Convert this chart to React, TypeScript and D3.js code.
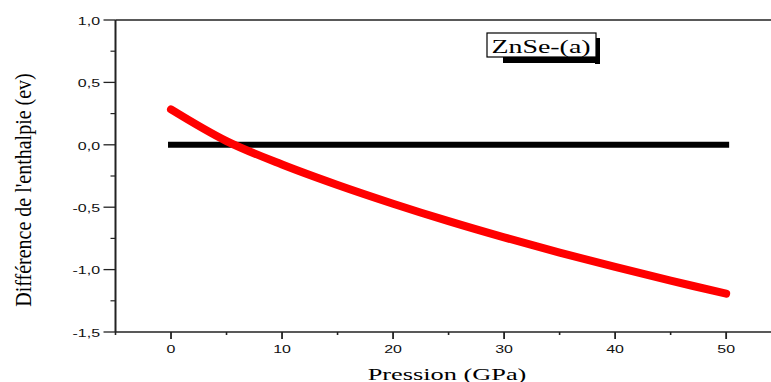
import React from "react";
import * as d3 from "d3";

const pressure = [0, 5, 10, 15, 20, 25, 30, 35, 40, 45, 50];
const redValues = [0.284, 0.03, -0.158, -0.322, -0.472, -0.612, -0.742, -0.864, -0.979, -1.089, -1.192];
const blackValues = [0, 0, 0, 0, 0, 0, 0, 0, 0, 0, 0];
const xTicks = [0, 10, 20, 30, 40, 50];
const xMinor = [-5, 5, 15, 25, 35, 45];
const yTicks = [1.0, 0.5, 0.0, -0.5, -1.0, -1.5];
const yMinor = [0.75, 0.25, -0.25, -0.75, -1.25];
const legendLabel = "ZnSe-(a)";
const xTitle = "Pression (GPa)";
const yTitle = "Différence de l'enthalpie (ev)";

const SX = 1.45;

export default function App() {
  const W = 771, H = 382;
  const left = 115.5, right = 771, top = 20, bottom = 332;
  const x = d3.scaleLinear().domain([-5, 54.04]).range([left, right]);
  const y = d3.scaleLinear().domain([-1.5, 1.0]).range([bottom, top]);
  const fmt = (v: number) => v.toFixed(1).replace(".", ",");
  const line = d3.line<number>().x((_, i) => x(pressure[i])).y((d) => y(d)).curve(d3.curveCatmullRom);
  const sans = { fontFamily: "Liberation Sans, Arial, Helvetica, sans-serif", fontSize: "11px", fill: "#111" };
  const serif = { fontFamily: "Liberation Serif, Times New Roman, DejaVu Serif, serif", fill: "#000" };
  const lx = 487, ly = 33, lw = 109, lh = 24;
  return (
    <svg width={W} height={H} style={{ position: "absolute", left: 0, top: 0, background: "#fff" }}>
      <rect width={W} height={H} fill="#fff" />
      <path d={line(blackValues) || ""} fill="none" stroke="#000" strokeWidth={6} strokeLinecap="square" />
      <path d={line(redValues) || ""} fill="none" stroke="#ff0000" strokeWidth={8} strokeLinecap="round" />
      <line x1={left} x2={right} y1={top} y2={top} stroke="#222" strokeWidth={1.5} />
      <line x1={left} x2={right} y1={bottom} y2={bottom} stroke="#222" strokeWidth={1.5} />
      <line x1={left} x2={left} y1={top} y2={bottom} stroke="#222" strokeWidth={2} />
      {yTicks.map((t) => (
        <g key={"y" + t}>
          <line x1={left - 12} x2={left} y1={y(t)} y2={y(t)} stroke="#222" strokeWidth={1.3} />
          <g transform={`translate(100,${y(t) + 1}) scale(${SX},1)`}>
            <text x={0} y={0} dy="0.35em" textAnchor="end" style={sans}>{fmt(t)}</text>
          </g>
        </g>
      ))}
      {yMinor.map((t) => (
        <line key={"ym" + t} x1={left - 5} x2={left} y1={y(t)} y2={y(t)} stroke="#222" strokeWidth={1.2} />
      ))}
      {xTicks.map((t) => (
        <g key={"x" + t}>
          <line x1={x(t)} x2={x(t)} y1={bottom} y2={bottom + 7} stroke="#222" strokeWidth={1.8} />
          <g transform={`translate(${x(t)},349) scale(${SX},1)`}>
            <text x={0} y={0} dy="0.35em" textAnchor="middle" style={sans}>{t}</text>
          </g>
        </g>
      ))}
      {xMinor.map((t) => (
        <line key={"xm" + t} x1={x(t)} x2={x(t)} y1={bottom} y2={bottom + 3} stroke="#222" strokeWidth={1.6} />
      ))}
      <g transform={`translate(447,379.5) scale(1.55,1)`}>
        <text x={0} y={0} textAnchor="middle" style={{ ...serif, fontSize: "17px" }}>{xTitle}</text>
      </g>
      <g transform={`translate(31,190) scale(1.2,1) rotate(-90)`}>
        <text x={0} y={0} textAnchor="middle" style={{ ...serif, fontSize: "20px" }}>{yTitle}</text>
      </g>
      <rect x={lx + lw - 1} y={ly + 5} width={5} height={lh + 2} fill="#000" />
      <rect x={lx + 16} y={ly + lh - 1} width={lw - 12} height={7} fill="#000" />
      <rect x={lx} y={ly} width={lw} height={lh} fill="#fff" stroke="#000" strokeWidth={1.2} />
      <g transform={`translate(${lx + lw / 2 - 0.5},${ly + lh / 2 + 1}) scale(1.47,1)`}>
        <text x={0} y={0} dy="0.35em" textAnchor="middle" style={{ ...serif, fontSize: "19px" }}>{legendLabel}</text>
      </g>
    </svg>
  );
}
